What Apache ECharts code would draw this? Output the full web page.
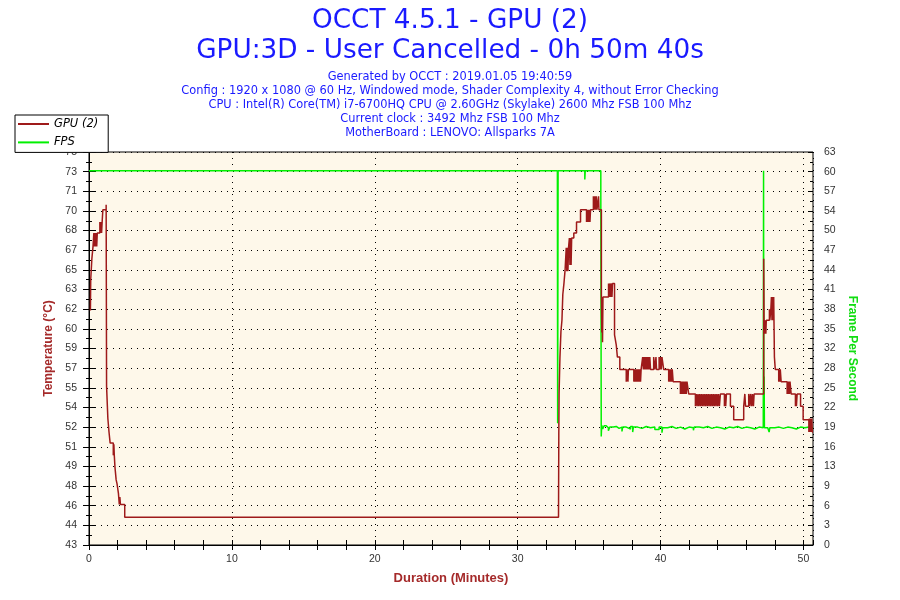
<!DOCTYPE html>
<html>
<head>
<meta charset="utf-8">
<script src="https://cdn.jsdelivr.net/npm/echarts@6/dist/echarts.min.js"></script>
<style>html,body{margin:0;padding:0;background:#fff;}#c{width:900px;height:600px;}</style>
</head>
<body>
<div id="c"></div>
<script>
// ---- text ----
var titleLines = ['OCCT 4.5.1 - GPU (2)', 'GPU:3D - User Cancelled - 0h 50m 40s'];
var infoLines = [
  'Generated by OCCT : 2019.01.05 19:40:59',
  'Config : 1920 x 1080 @ 60 Hz, Windowed mode, Shader Complexity 4, without Error Checking',
  'CPU : Intel(R) Core(TM) i7-6700HQ CPU @ 2.60GHz (Skylake) 2600 Mhz FSB 100 Mhz',
  'Current clock : 3492 Mhz FSB 100 Mhz',
  'MotherBoard : LENOVO: Allsparks 7A'
];
var seriesNames = ['GPU (2)', 'FPS'];
var xAxisName = 'Duration (Minutes)';
var leftAxisName = 'Temperature (°C)';
var rightAxisName = 'Frame Per Second';

// ---- tick labels ----
var tempTickLabels = ['43','44','46','48','49','51','52','54','55','57','59','60','62','63','65','67','68','70','71','73','75'];
var fpsTickLabels = ['0','3','6','9','13','16','19','22','25','28','32','35','38','41','44','47','50','54','57','60','63'];
var xTickLabels = ['0','10','20','30','40','50'];

// ---- data: [minutes, value] ----
var gpuTemp = [
 [0.10,62.1],[0.12,64.6],[0.20,66.3],[0.28,67.3],[0.34,68.4],[0.38,67.3],[0.42,68.4],[0.46,67.3],[0.50,68.4],[0.54,67.3],[0.58,68.4],
 [0.76,69.3],[0.80,68.4],[0.84,69.3],[0.88,68.4],[0.92,69.3],[0.97,70.3],[1.20,70.7],[1.23,55.9],[1.32,53.3],[1.40,52.2],[1.48,51.3],
 [1.70,50.3],[1.74,51.2],[1.77,50.3],[1.82,49.3],[1.90,48.3],[1.96,48.0],[2.06,47.2],[2.12,46.3],[2.16,46.9],[2.20,46.3],[2.50,45.25],
 [32.86,45.25],[32.88,52.0],[32.90,55.4],[32.96,58.3],[33.03,60.4],[33.10,61.3],[33.16,63.4],[33.24,64.3],[33.32,65.4],
 [33.40,67.2],[33.44,65.3],[33.48,67.2],[33.52,65.3],[33.56,67.2],[33.62,68.0],[33.66,65.8],[33.70,68.0],[33.74,65.8],[33.78,68.0],
 [33.93,68.4],[34.12,69.3],[34.40,70.3],[34.82,69.3],[34.86,70.3],[34.90,69.3],[34.94,70.3],[34.98,69.3],[35.02,70.3],[35.06,69.3],[35.10,70.3],
 [35.30,71.4],[35.33,70.3],[35.36,71.4],[35.40,70.3],[35.43,71.4],[35.47,70.3],[35.50,71.4],[35.55,70.3],[35.66,71.4],[35.69,70.3],
 [35.86,63.2],[35.89,60.3],[35.91,63.2],[35.94,59.5],[35.97,63.2],
 [36.36,64.3],[36.40,63.2],[36.44,64.3],[36.50,63.2],[36.54,64.3],[36.60,63.2],[36.64,64.3],
 [36.78,60.1],[36.90,59.3],[36.98,58.3],[37.15,57.3],
 [37.60,56.3],[37.63,57.3],[37.72,56.3],[37.75,57.3],
 [38.13,56.3],[38.18,57.3],[38.22,56.3],[38.27,57.3],[38.31,56.3],[38.36,57.3],[38.40,56.3],[38.45,57.3],[38.50,56.3],[38.55,57.3],[38.60,56.3],[38.64,57.3],
 [38.75,58.3],[38.80,57.3],[38.85,58.3],[38.90,57.3],[38.95,58.3],[39.00,57.3],[39.05,58.3],[39.10,57.3],[39.15,58.3],[39.20,57.3],[39.25,58.3],[39.30,57.3],
 [39.52,58.3],[39.60,57.3],[39.68,58.3],[39.72,57.3],[39.90,58.3],[39.95,57.3],[40.00,58.3],[40.05,57.3],[40.10,58.3],[40.22,57.3],
 [40.57,56.3],[40.62,57.3],[40.67,56.3],[40.72,57.3],[40.77,56.3],[40.82,57.3],[40.88,56.3],
 [41.39,55.3],[41.44,56.3],[41.49,55.3],[41.54,56.3],[41.59,55.3],[41.64,56.3],[41.70,55.3],[41.75,56.3],[41.80,55.3],[41.85,56.3],[41.97,55.3],
 [42.44,54.3],[42.50,55.3],[42.56,54.3],[42.62,55.3],[42.68,54.3],[42.74,55.3],[42.80,54.3],[42.86,55.3],[42.92,54.3],[42.98,55.3],
 [43.04,54.3],[43.10,55.3],[43.16,54.3],[43.22,55.3],[43.28,54.3],[43.34,55.3],[43.40,54.3],[43.46,55.3],[43.52,54.3],[43.58,55.3],
 [43.64,54.3],[43.70,55.3],[43.76,54.3],[43.82,55.3],[43.88,54.3],[43.94,55.3],[44.00,54.3],[44.06,55.3],[44.12,54.3],[44.19,55.3],
 [44.47,54.3],[44.52,55.3],[44.56,54.3],[44.61,55.3],[44.89,54.3],[45.12,53.2],[45.82,54.3],[45.90,55.3],[45.95,54.3],[46.17,55.3],
 [46.25,54.3],[46.30,55.3],[46.38,54.3],[46.43,55.3],[46.50,54.3],[46.55,55.3],
 [47.22,66.3],[47.25,60.2],[47.28,61.3],[47.31,60.2],[47.34,61.3],[47.37,60.2],[47.40,61.3],
 [47.62,62.2],[47.65,61.3],[47.72,62.2],[47.76,63.2],[47.80,61.3],[47.84,63.2],[47.88,61.3],[47.92,63.2],[47.97,58.3],[48.03,57.3],
 [48.27,56.3],[48.30,57.3],[48.34,56.3],[48.38,57.3],[48.44,56.3],[48.86,55.3],[48.90,56.3],[48.94,55.3],[48.98,56.3],[49.02,55.3],[49.06,56.3],[49.14,55.3],
 [49.44,54.3],[49.47,55.3],[49.51,54.3],[49.56,55.3],[49.80,54.3],[49.98,53.2],
 [50.38,52.2],[50.42,53.3],[50.46,52.2],[50.50,53.3],[50.54,52.2],[50.58,53.3],[50.62,52.2],[50.67,52.2]
];
var fpsData = [
 [0,60],[32.78,60],[32.80,19.5],[32.83,60],[34.70,58.6],[34.73,60],[35.82,56.4],[35.85,17.4],[35.88,19.2],[35.95,18.6],[36.05,19.1],
 [36.2,18.8],[36.35,18.3],[36.45,18.9],[36.7,19.0],[36.9,18.7],[37.1,18.9],[37.3,18.2],[37.35,18.9],[37.6,18.6],[37.9,19.0],[38.05,18.1],
 [38.1,18.9],[38.4,18.7],[38.7,19.0],[39.0,18.8],[39.3,18.9],[39.6,18.5],[39.9,18.9],[40.1,18.0],[40.15,18.8],[40.5,19.0],[40.8,18.7],
 [41.1,18.9],[41.4,18.6],[41.7,18.9],[42.0,18.8],[42.3,18.4],[42.35,18.9],[42.7,18.8],[43.0,19.0],[43.3,18.7],[43.6,18.9],[43.9,18.8],
 [44.2,18.6],[44.5,18.9],[44.8,18.8],[45.1,19.0],[45.4,18.7],[45.7,18.9],[46.0,18.8],[46.3,18.6],[46.6,18.9],[46.9,18.8],[47.19,18.8],
 [47.21,60],[47.23,18.9],[47.25,27.0],[47.27,18.8],[47.5,18.6],[47.6,18.1],[47.65,18.8],[48.0,18.9],[48.3,18.7],[48.6,18.9],[48.9,18.8],
 [49.2,18.6],[49.5,18.9],[49.8,18.8],[50.1,18.9],[50.4,18.7],[50.67,18.8]
];

// ---- axis ranges ----
var xMin = 0, xMax = 50.67;
var tMin = 43, tMax = 75, tStep = 1.6;
var fMin = 0, fMax = 63, fStep = 3.15;

var chart = echarts.init(document.getElementById('c'), null, {renderer: 'canvas'});
var blue = '#1a1aff';
var red = '#9e1a1a';
var green = '#00f000';
var dotted = {color: '#000', width: 1, type: [1, 5]};
function titleItem(text, top, size) {
  return {text: text, left: 'center', top: top, padding: 0,
    textStyle: {fontSize: size, fontWeight: 'normal', color: blue, fontFamily: 'DejaVu Sans'}};
}
var titles = [titleItem(titleLines[0], 8.5, 26.3), titleItem(titleLines[1], 38.5, 26.3)];
var infoTops = [71.5, 86, 100, 114, 127.5];
infoLines.forEach(function (l, i) { titles.push(titleItem(l, infoTops[i], 11.4)); });

function tempLabel(v) { var i = Math.round((v - tMin) / tStep); return tempTickLabels[i] || ''; }
function fpsLabel(v) { var i = Math.round((v - fMin) / fStep); return fpsTickLabels[i] || ''; }
function xLabel(v) { var i = Math.round(v / 10); return (Math.abs(v - i * 10) < 1e-6) ? (xTickLabels[i] || '') : ''; }
var lblStyle = {color: '#333', fontSize: 10.5, fontFamily: 'Liberation Sans'};
var tickStyle = {color: '#000', width: 1};

chart.setOption({
  backgroundColor: '#fff',
  animation: false,
  title: titles,
  legend: {
    orient: 'vertical', left: 15, top: 115, z: 10,
    backgroundColor: '#fff', borderColor: '#000', borderWidth: 1, borderRadius: 0,
    padding: [2, 10, 3, 3], itemWidth: 31, itemHeight: 2, itemGap: 4.4, icon: 'rect',
    textStyle: {fontStyle: 'italic', fontSize: 11.5, lineHeight: 14, color: '#000', fontFamily: 'DejaVu Sans'},
    data: seriesNames
  },
  grid: {left: 89, right: 87, top: 152, bottom: 55, show: true,
    backgroundColor: '#fef8ea', borderColor: '#000', borderWidth: 1},
  xAxis: [
    {type: 'value', min: xMin, max: xMax, interval: 2, position: 'bottom',
     name: xAxisName, nameLocation: 'middle', nameGap: 27,
     nameTextStyle: {color: '#a52a2a', fontWeight: 'bold', fontSize: 13, fontFamily: 'Liberation Sans Narrow, Liberation Sans'},
     axisLine: {lineStyle: {color: '#000', width: 1}},
     axisTick: {show: true, length: 5, lineStyle: tickStyle},
     axisLabel: Object.assign({margin: 9, formatter: xLabel, showMaxLabel: false}, lblStyle),
     splitLine: {show: false}},
    {type: 'value', min: xMin, max: xMax, interval: 10, position: 'bottom',
     axisLine: {show: false}, axisTick: {show: false}, axisLabel: {show: false},
     splitLine: {show: true, lineStyle: dotted}},
    {type: 'value', min: xMin, max: xMax, interval: 2, position: 'bottom',
     axisLine: {show: false}, axisTick: {show: true, inside: true, length: 5, lineStyle: tickStyle},
     axisLabel: {show: false}, splitLine: {show: false}}
  ],
  yAxis: [
    {type: 'value', min: tMin, max: tMax, interval: tStep, position: 'left',
     name: leftAxisName, nameLocation: 'middle', nameGap: 32,
     nameTextStyle: {color: '#a52a2a', fontWeight: 'bold', fontSize: 12, fontFamily: 'Liberation Sans'},
     axisLine: {show: true, lineStyle: {color: '#000'}},
     axisTick: {show: true, length: 6, lineStyle: tickStyle},
     minorTick: {show: true, splitNumber: 2, length: 3, lineStyle: tickStyle},
     axisLabel: Object.assign({margin: 12, formatter: tempLabel}, lblStyle),
     splitLine: {show: true, lineStyle: dotted}},
    {type: 'value', min: fMin, max: fMax, interval: fStep, position: 'right',
     name: rightAxisName, nameLocation: 'middle', nameGap: 27, nameRotate: -90,
     nameTextStyle: {color: '#11dd11', fontWeight: 'bold', fontSize: 12, fontFamily: 'Liberation Sans'},
     axisLine: {show: true, lineStyle: {color: '#000'}},
     axisTick: {show: true, length: 6, lineStyle: tickStyle},
     minorTick: {show: true, splitNumber: 2, length: 3, lineStyle: tickStyle},
     axisLabel: Object.assign({margin: 11, formatter: fpsLabel}, lblStyle),
     splitLine: {show: false}},
    {type: 'value', min: tMin, max: tMax, interval: tStep, position: 'left',
     axisLine: {show: false}, axisLabel: {show: false}, splitLine: {show: false},
     axisTick: {show: true, inside: true, length: 5, lineStyle: tickStyle},
     minorTick: {show: true, splitNumber: 2, length: 3, lineStyle: tickStyle}},
    {type: 'value', min: fMin, max: fMax, interval: fStep, position: 'right',
     axisLine: {show: false}, axisLabel: {show: false}, splitLine: {show: false},
     axisTick: {show: true, inside: true, length: 5, lineStyle: tickStyle},
     minorTick: {show: true, splitNumber: 2, length: 3, lineStyle: tickStyle}}
  ],
  series: [
    {name: seriesNames[0], type: 'line', xAxisIndex: 0, yAxisIndex: 0, data: gpuTemp,
     step: 'end', symbol: 'none', z: 4, lineStyle: {color: red, width: 1.5}, itemStyle: {color: red}},
    {name: seriesNames[1], type: 'line', xAxisIndex: 0, yAxisIndex: 1, data: fpsData,
     step: 'end', symbol: 'none', z: 3, lineStyle: {color: green, width: 1.5}, itemStyle: {color: green}}
  ]
});
</script>
</body>
</html>
